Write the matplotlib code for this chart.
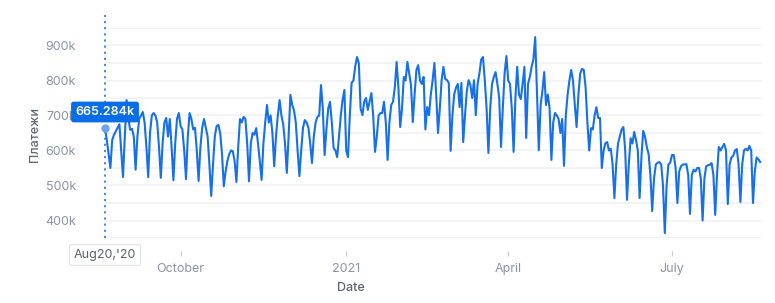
import matplotlib
matplotlib.use("Agg")
import matplotlib.pyplot as plt
import matplotlib.dates as mdates
import pandas as pd

plt.rcParams['font.family'] = ['Inter', 'DejaVu Sans']

# daily payments, thousands, from Aug 20 2020 (one row = one week, Thu..Wed)
payments_k = [
    665, 630, 590, 550, 630, 645, 655,
    665, 675, 600, 524, 640, 744, 690,
    659, 662, 640, 545, 640, 690, 700,
    710, 680, 610, 524, 650, 700, 707,
    700, 680, 610, 522, 620, 680, 693,
    640, 690, 610, 515, 620, 690, 707,
    670, 660, 600, 518, 640, 707, 690,
    660, 665, 600, 513, 610, 665, 690,
    665, 640, 560, 470, 560, 640, 670,
    673, 650, 590, 498, 540, 570, 590,
    600, 598, 570, 510, 610, 690, 680,
    696, 690, 620, 512, 620, 650, 645,
    664, 620, 570, 516, 620, 680, 730,
    680, 700, 650, 555, 640, 700, 744,
    700, 675, 620, 536, 640, 759, 730,
    715, 680, 600, 527, 600, 665, 687,
    680, 665, 620, 564, 640, 680, 696,
    700, 787, 720, 587, 660, 720, 739,
    680, 607, 600, 581, 640, 700, 745,
    773, 600, 581, 700, 793, 800, 840,
    867, 850, 720, 701, 740, 750, 716,
    740, 764, 700, 596, 640, 700, 707,
    707, 739, 680, 573, 680, 730, 739,
    780, 853, 780, 667, 720, 810, 800,
    853, 820, 787, 681, 760, 830, 844,
    800, 790, 810, 660, 724, 701, 760,
    800, 850, 760, 650, 720, 800, 839,
    805, 801, 793, 599, 700, 760, 780,
    790, 724, 793, 624, 700, 770, 801,
    787, 750, 801, 701, 790, 820, 860,
    867, 800, 720, 593, 720, 790, 810,
    824, 790, 750, 610, 720, 820, 870,
    800, 790, 720, 596, 750, 839, 760,
    747, 790, 839, 636, 790, 810, 839,
    860, 924, 760, 601, 730, 770, 824,
    730, 760, 720, 573, 680, 707, 700,
    690, 650, 690, 556, 700, 760, 800,
    830, 800, 730, 667, 760, 820, 833,
    830, 780, 680, 600, 664, 660, 700,
    724, 693, 693, 550, 600, 621, 624,
    600, 605, 560, 464, 560, 620, 640,
    660, 667, 600, 459, 560, 635, 620,
    653, 630, 600, 464, 580, 656, 640,
    610, 590, 530, 427, 520, 560, 565,
    567, 560, 500, 364, 500, 560, 565,
    587, 587, 550, 450, 540, 555, 560,
    560, 561, 530, 419, 530, 545, 540,
    550, 550, 520, 400, 520, 555, 558,
    559, 564, 530, 416, 530, 610, 600,
    610, 619, 600, 447, 560, 580, 585,
    600, 604, 560, 453, 560, 600, 605,
    600, 613, 600, 450, 540, 580, 575,
    567,
]
dates = pd.date_range('2020-08-20', periods=len(payments_k), freq='D')

tick_dates = pd.to_datetime(['2020-10-01', '2021-01-01', '2021-04-01', '2021-07-01'])
tick_labels = ['October', '2021', 'April', 'July']
y_labels = [400, 500, 600, 700, 800, 900]
y_grid = [350, 400, 450, 500, 550, 600, 650, 700, 750, 800, 850, 900, 950]

W, H = 775, 303
fig = plt.figure(figsize=(W / 100, H / 100), dpi=100)
ax = fig.add_axes([105 / W, 1 - 238 / H, 657 / W, 210 / H])

line_col = '#1570ea'
ax.plot(dates, payments_k, color=line_col, lw=1.5, zorder=3)

ax.set_xlim(pd.Timestamp('2020-08-20'), pd.Timestamp('2021-08-20'))
ax.set_ylim(350, 950)

for s in ax.spines.values():
    s.set_visible(False)
ax.spines['bottom'].set_position(('outward', 9.5))

ax.set_yticks(y_labels)
ax.set_yticklabels(['{}k'.format(v) for v in y_labels])
ax.set_yticks(y_grid, minor=True)
ax.tick_params(axis='y', which='both', length=0, pad=21, labelsize=9, labelcolor='#8a93a3')
ax.grid(axis='y', which='both', color='#eef0f3', lw=1.1)
ax.set_axisbelow(True)

ax.set_xticks(tick_dates)
ax.set_xticklabels(tick_labels)
ax.tick_params(axis='x', length=3.5, width=0.9, color='#c8ccd2', pad=5,
               labelsize=9, labelcolor='#8a93a3')

# crosshair at first point
ax.axvline(dates[0], ymin=0, ymax=1.06, clip_on=False, color='#2f7fef',
           lw=1.3, ls=(0, (1.2, 2.2)), zorder=4)
ax.plot(dates[:1], payments_k[:1], 'o', ms=5, color='#6aa3ee', zorder=5, clip_on=False)

fig.text(105 / W, 1 - 112 / H, '665.284k', ha='center', va='center', fontsize=9,
         fontweight='semibold', color='white',
         bbox=dict(boxstyle='round,pad=0.35,rounding_size=0.2', fc='#0a6de8', ec='none'))
fig.text(105 / W, 1 - 255 / H, "Aug20,'20", ha='center', va='center', fontsize=9,
         color='#5a5f69',
         bbox=dict(boxstyle='round,pad=0.35,rounding_size=0.15', fc='white', ec='#dfe2e6', lw=0.8))

fig.text(35 / W, 1 - 134 / H, 'Платежи', rotation=90, ha='center', va='center',
         fontsize=9, color='#5f6673', fontweight='medium')
fig.text(351 / W, 1 - 288 / H, 'Date', ha='center', va='center',
         fontsize=9, color='#5f6673', fontweight='medium')

fig.savefig('out.png', dpi=100)
